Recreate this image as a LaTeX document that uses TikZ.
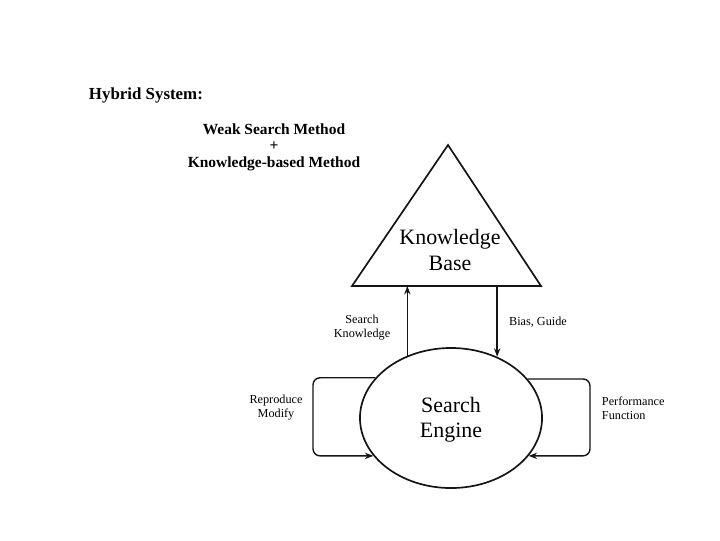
\documentclass[tikz,border=0pt]{standalone}
\usepackage{fontspec}
\setmainfont{Liberation Serif}
\usetikzlibrary{shapes.geometric,arrows.meta}
\newlength{\enginewidth}
\newlength{\engineheight}
\setlength{\enginewidth}{4.55cm}
\setlength{\engineheight}{3.5cm}
\definecolor{linecolor}{RGB}{20,20,20}
\tikzstyle{engine} = [ellipse, draw=linecolor, line width=1.2pt, minimum width=\enginewidth, minimum height=\engineheight, inner sep=0]
\tikzstyle{bigtext} = [align=center, font=\fontsize{15.6}{17.8}\selectfont]
\tikzstyle{smalltext} = [font=\fontsize{8.7}{10}\selectfont]
\tikzstyle{flow} = [draw=linecolor, line width=1pt, -{Stealth[length=6pt,width=4.5pt]}]
\tikzstyle{loopflow} = [flow, rounded corners=5pt]

\begin{document}
\begin{tikzpicture}[
		x=0.025cm, y=-0.025cm
		]
		\useasboundingbox (0,0) rectangle (720,540);
		
		% heading
		\node[anchor=west, font=\bfseries\fontsize{12}{14}\selectfont] (hybrid) at (84,95) {Hybrid System:};
		\node[align=center, font=\bfseries\fontsize{11}{11.8}\selectfont] (methods) at (274,147) {Weak Search Method\\+\\Knowledge-based Method};
		
		% knowledge base
		\coordinate (kbtop) at (448,145);
		\coordinate (kbleft) at (352,286);
		\coordinate (kbright) at (541,286);
		\draw[linecolor, line width=1.2pt] (kbtop) -- (kbright) -- (kbleft) -- cycle;
		\node[bigtext] (kb) at (450,250) {Knowledge\\Base};
		
		% search engine
		\node[engine] (engine) at (451,418) {};
		\node[bigtext] (enginetext) at (451,420) {Search\\Engine};
		
		% connectors
		\draw[flow] (engine.125) -- (engine.125 |- kbleft);
		\draw[flow] (engine.53.5 |- kbleft) -- (engine.53.5);
		
		\coordinate (leftedge) at (313,418);
		\coordinate (rightedge) at (590,418);
		\draw[loopflow] (engine.152) -| (leftedge) |- (engine.206.6);
		\draw[loopflow] (engine.27.5) -| (rightedge) |- (engine.-26.6);
		
		% labels
		\node[smalltext, align=center] (searchknow) at (362,328) {Search\\Knowledge};
		\node[smalltext] (biasguide) at (538,322) {Bias, Guide};
		\node[smalltext, align=center] (reproduce) at (276,408) {Reproduce\\Modify};
		\node[smalltext, align=left, anchor=west] (performance) at (597,408) {Performance\\Function};
		
	\end{tikzpicture}
\end{document}
